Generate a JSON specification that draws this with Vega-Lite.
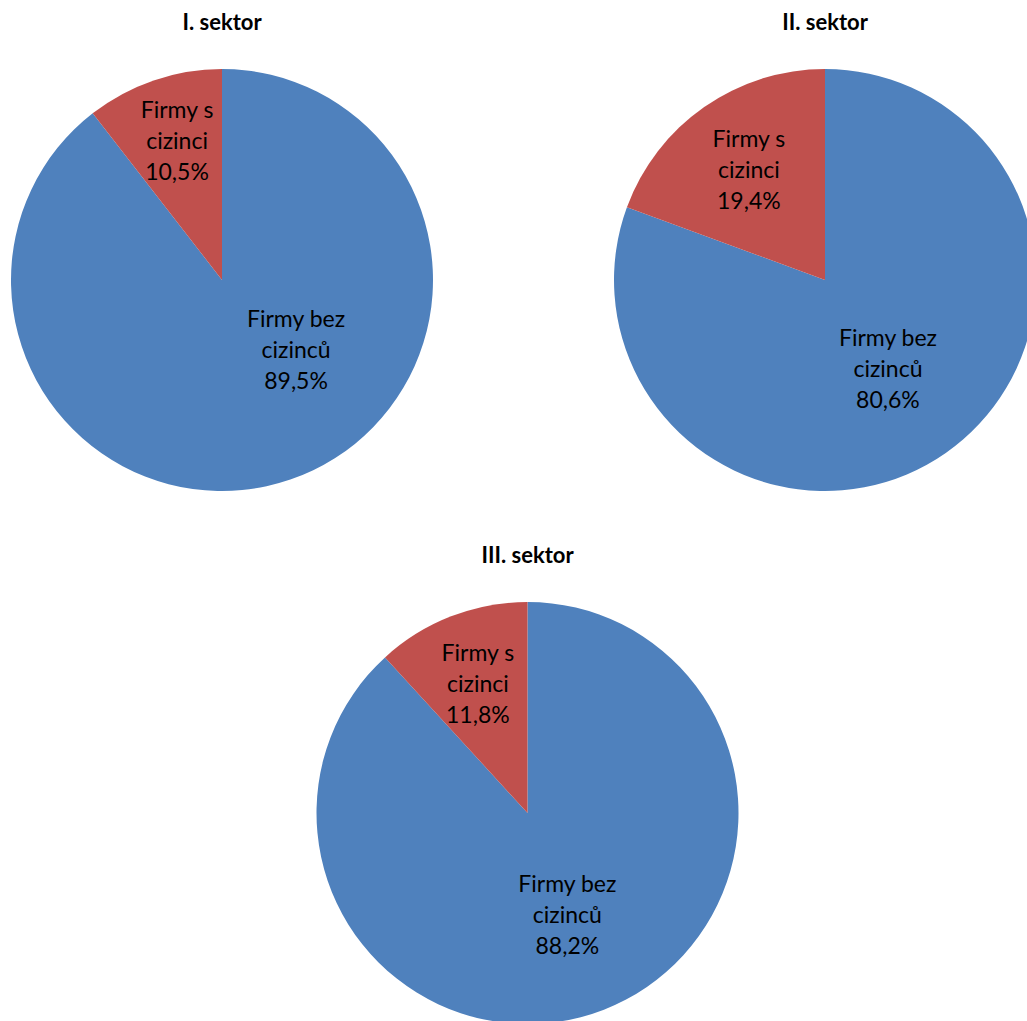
{
  "$schema": "https://vega.github.io/schema/vega-lite/v6.json",
  "padding": {"left": 11, "top": 12, "right": 0, "bottom": 0},
  "background": "white",
  "datasets": {
    "d": [
      {"sektor": "I. sektor", "kategorie": "Firmy bez cizinců", "podil": 89.5, "popis": "Firmy bez\ncizinců\n89,5%"},
      {"sektor": "I. sektor", "kategorie": "Firmy s cizinci", "podil": 10.5, "popis": "Firmy s\ncizinci\n10,5%"},
      {"sektor": "II. sektor", "kategorie": "Firmy bez cizinců", "podil": 80.6, "popis": "Firmy bez\ncizinců\n80,6%"},
      {"sektor": "II. sektor", "kategorie": "Firmy s cizinci", "podil": 19.4, "popis": "Firmy s\ncizinci\n19,4%"},
      {"sektor": "III. sektor", "kategorie": "Firmy bez cizinců", "podil": 88.2, "popis": "Firmy bez\ncizinců\n88,2%"},
      {"sektor": "III. sektor", "kategorie": "Firmy s cizinci", "podil": 11.8, "popis": "Firmy s\ncizinci\n11,8%"}
    ]
  },
  "vconcat": [
    {
      "hconcat": [
        {
          "title": {"text": "I. sektor", "anchor": "middle", "offset": 34},
          "width": 422, "height": 422,
          "data": {"name": "d"},
          "transform": [{"filter": "datum.sektor == 'I. sektor'"}],
          "encoding": {
            "theta": {"field": "podil", "type": "quantitative", "stack": true},
            "order": {"field": "kategorie", "type": "nominal", "sort": "ascending"}
          },
          "layer": [
            {
              "mark": {"type": "arc", "outerRadius": 211},
              "encoding": {
                "color": {"field": "kategorie", "type": "nominal", "legend": null,
                  "scale": {"domain": ["Firmy bez cizinců", "Firmy s cizinci"], "range": ["#4F81BD", "#C0504D"]}}
              }
            },
            {
              "mark": {"type": "text", "radius": 145, "dx": 2, "dy": -32, "baseline": "middle", "lineBreak": "\n", "lineHeight": 31, "font": "Lato", "fontSize": 23, "color": "black"},
              "encoding": {
                "text": {"field": "popis"},
                "opacity": {"condition": {"test": "datum.kategorie == 'Firmy s cizinci'", "value": 1}, "value": 0}
              }
            },
            {
              "mark": {"type": "text", "radius": 102, "dx": 41, "dy": -57, "baseline": "middle", "lineBreak": "\n", "lineHeight": 31, "font": "Lato", "fontSize": 23, "color": "black"},
              "encoding": {
                "text": {"field": "popis"},
                "opacity": {"condition": {"test": "datum.kategorie == 'Firmy bez cizinců'", "value": 1}, "value": 0}
              }
            }
          ]
        },
        {
          "title": {"text": "II. sektor", "anchor": "middle", "offset": 34},
          "width": 438, "height": 422,
          "data": {"name": "d"},
          "transform": [{"filter": "datum.sektor == 'II. sektor'"}],
          "encoding": {
            "theta": {"field": "podil", "type": "quantitative", "stack": true},
            "order": {"field": "kategorie", "type": "nominal", "sort": "ascending"}
          },
          "layer": [
            {
              "mark": {"type": "arc", "outerRadius": 211},
              "encoding": {
                "color": {"field": "kategorie", "type": "nominal", "legend": null,
                  "scale": {"domain": ["Firmy bez cizinců", "Firmy s cizinci"], "range": ["#4F81BD", "#C0504D"]}}
              }
            },
            {
              "mark": {"type": "text", "radius": 133, "dy": -31, "baseline": "middle", "lineBreak": "\n", "lineHeight": 31, "font": "Lato", "fontSize": 23, "color": "black"},
              "encoding": {
                "text": {"field": "popis"},
                "opacity": {"condition": {"test": "datum.kategorie == 'Firmy s cizinci'", "value": 1}, "value": 0}
              }
            },
            {
              "mark": {"type": "text", "radius": 110, "dy": -31, "baseline": "middle", "lineBreak": "\n", "lineHeight": 31, "font": "Lato", "fontSize": 23, "color": "black"},
              "encoding": {
                "text": {"field": "popis"},
                "opacity": {"condition": {"test": "datum.kategorie == 'Firmy bez cizinců'", "value": 1}, "value": 0}
              }
            }
          ]
        }
      ],
      "spacing": 173
    },
    {
      "title": {"text": "III. sektor", "anchor": "middle", "offset": 34},
      "width": 422, "height": 422,
      "data": {"name": "d"},
      "transform": [{"filter": "datum.sektor == 'III. sektor'"}],
      "encoding": {
        "theta": {"field": "podil", "type": "quantitative", "stack": true},
        "order": {"field": "kategorie", "type": "nominal", "sort": "ascending"}
      },
      "layer": [
        {
          "mark": {"type": "arc", "outerRadius": 211},
          "encoding": {
            "color": {"field": "kategorie", "type": "nominal", "legend": null,
              "scale": {"domain": ["Firmy bez cizinců", "Firmy s cizinci"], "range": ["#4F81BD", "#C0504D"]}}
          }
        },
        {
          "mark": {"type": "text", "radius": 137, "dy": -31, "baseline": "middle", "lineBreak": "\n", "lineHeight": 31, "font": "Lato", "fontSize": 23, "color": "black"},
          "encoding": {
            "text": {"field": "popis"},
            "opacity": {"condition": {"test": "datum.kategorie == 'Firmy s cizinci'", "value": 1}, "value": 0}
          }
        },
        {
          "mark": {"type": "text", "radius": 110, "dy": -31, "baseline": "middle", "lineBreak": "\n", "lineHeight": 31, "font": "Lato", "fontSize": 23, "color": "black"},
          "encoding": {
            "text": {"field": "popis"},
            "opacity": {"condition": {"test": "datum.kategorie == 'Firmy bez cizinců'", "value": 1}, "value": 0}
          }
        }
      ]
    }
  ],
  "spacing": 54,
  "center": true,
  "config": {
    "view": {"stroke": null},
    "title": {"font": "Lato", "fontSize": 22, "fontWeight": "bold", "color": "black"}
  }
}
